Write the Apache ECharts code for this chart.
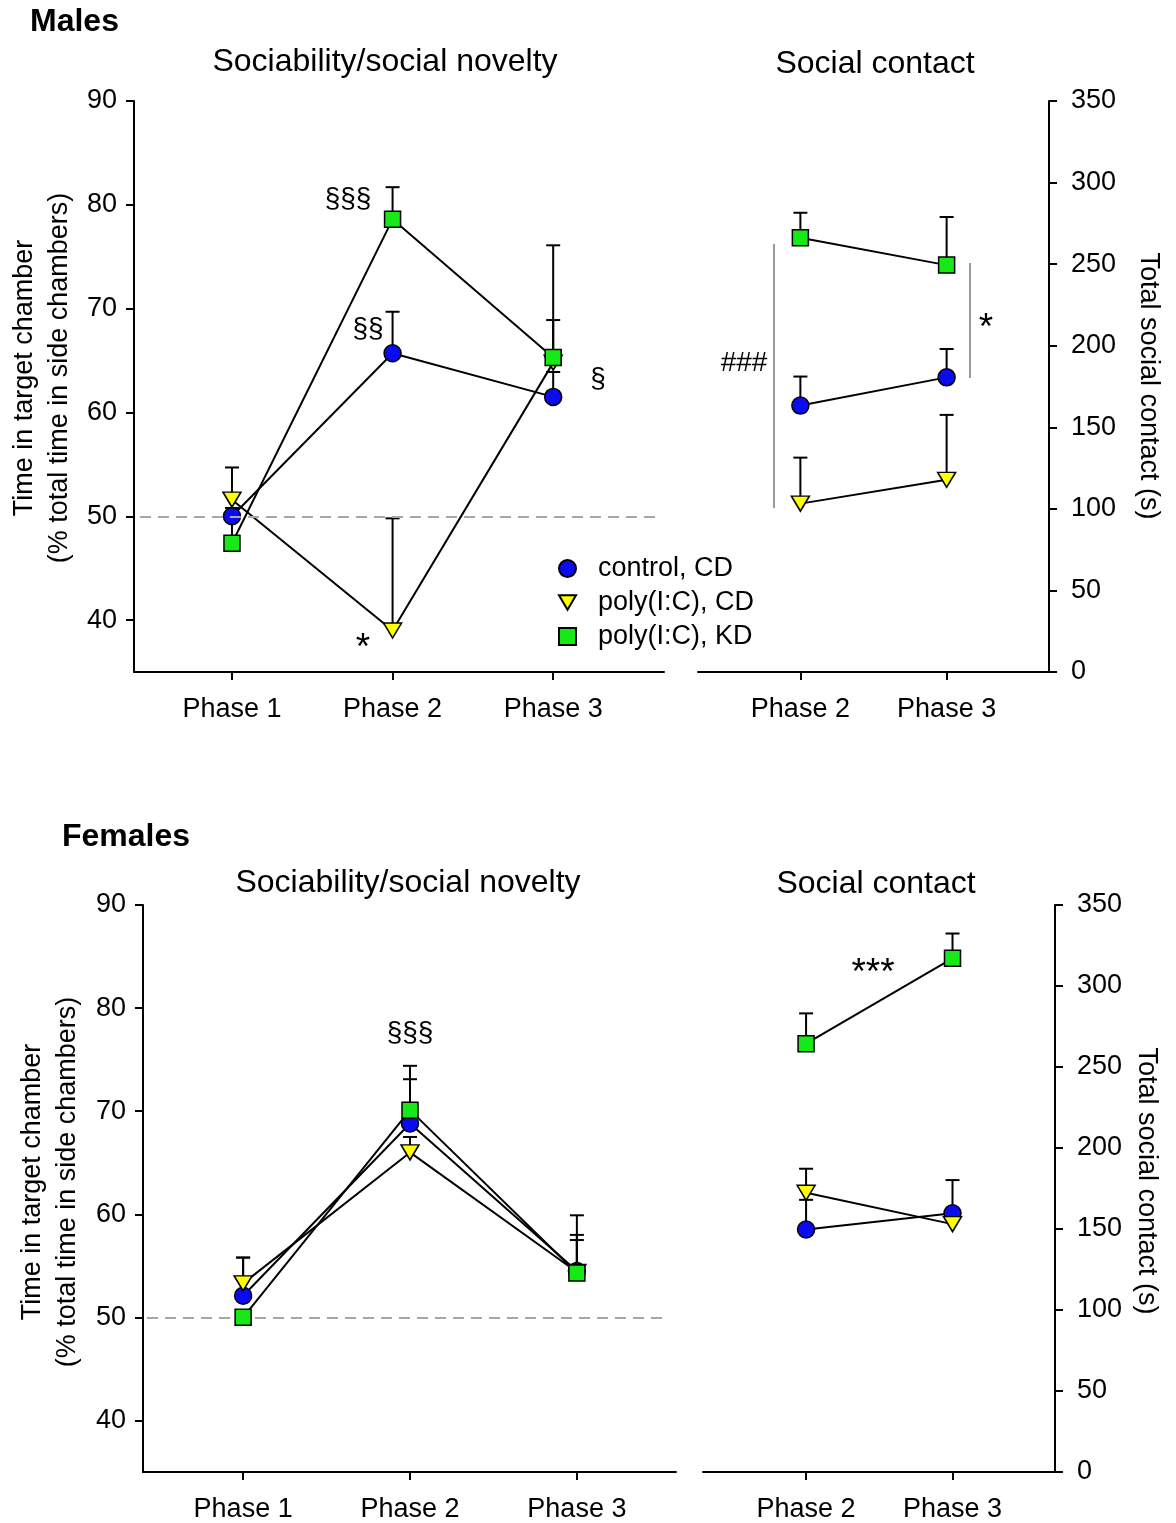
<!DOCTYPE html>
<html>
<head>
<meta charset="utf-8">
<script src="https://cdn.jsdelivr.net/npm/echarts@6/dist/echarts.min.js"></script>
<style>
html,body{margin:0;padding:0;background:#fff;}
#main{width:1176px;height:1523px;}
</style>
</head>
<body>
<div id="main"></div>
<script>
// ---------- DATA ----------
const groupNames = ['control, CD', 'poly(I:C), CD', 'poly(I:C), KD'];
const phasesSoc = [1, 2, 3];          // Phase 1..3 (sociability / social novelty)
const phasesContact = [2, 3];         // Phase 2..3 (social contact)
const yTicksSoc = [40, 50, 60, 70, 80, 90];
const yTicksContact = [0, 50, 100, 150, 200, 250, 300, 350];

// Males – sociability/social novelty (% time)
const mSocControl = [50.0, 65.7, 61.5];
const mSocControlSem = [0.8, 4.0, 2.4];
const mSocPolyCD = [51.6, 39.0, 64.8];
const mSocPolyCDSem = [3.1, 10.8, 4.1];
const mSocPolyKD = [47.4, 78.6, 65.3];
const mSocPolyKDSem = [2.6, 3.1, 10.8];

// Males – social contact (s)
const mConControl = [163.3, 180.6];
const mConControlSem = [17.8, 17.4];
const mConPolyCD = [103.2, 117.8];
const mConPolyCDSem = [28.2, 39.8];
const mConPolyKD = [266.2, 249.4];
const mConPolyKDSem = [15.3, 29.5];

// Females – sociability/social novelty (% time)
const fSocControl = [52.1, 68.8, 54.5];
const fSocControlSem = [3.7, 4.3, 3.5];
const fSocPolyCD = [53.3, 66.0, 54.4];
const fSocPolyCDSem = [2.5, 1.5, 3.1];
const fSocPolyKD = [50.0, 70.1, 54.3];
const fSocPolyKDSem = [0.5, 4.3, 5.6];

// Females – social contact (s)
const fConControl = [149.7, 159.7];
const fConControlSem = [18.3, 20.5];
const fConPolyCD = [172.4, 153.0];
const fConPolyCDSem = [14.8, 3.0];
const fConPolyKD = [264.4, 317.1];
const fConPolyKDSem = [18.7, 15.3];

// ---------- STYLE ----------
const FONT = "'Liberation Sans', Arial, Helvetica, sans-serif";
const TRI_DOWN = 'path://M0,0 L20,0 L10,17 Z';
const markerStyles = [
  { symbol: 'circle', size: 17, color: '#0a0af5' },
  { symbol: TRI_DOWN, size: [18, 15], color: '#ffff00' },
  { symbol: 'rect', size: 16, color: '#17e817' }
];

const chart = echarts.init(document.getElementById('main'), null, { renderer: 'canvas' });

function xAxisDef(gridIndex, min, max, ticks) {
  return {
    type: 'value', gridIndex, min, max,
    splitLine: { show: false },
    axisLine: { show: true, onZero: false, lineStyle: { color: '#000', width: 2 } },
    axisTick: { show: true, length: 8, customValues: ticks, lineStyle: { color: '#000', width: 2 } },
    axisLabel: { customValues: ticks, formatter: v => 'Phase ' + v, margin: 24,
      color: '#000', fontSize: 27, fontFamily: FONT }
  };
}
function yAxisDef(gridIndex, min, max, ticks, position, margin) {
  return {
    type: 'value', gridIndex, min, max, position,
    splitLine: { show: false },
    axisLine: { show: true, onZero: false, lineStyle: { color: '#000', width: 2 } },
    axisTick: { show: true, length: 8, customValues: ticks, lineStyle: { color: '#000', width: 2 } },
    axisLabel: { customValues: ticks, margin, color: '#000', fontSize: 27, fontFamily: FONT }
  };
}

const series = [];
function addPanel(axisIdx, phases, means, sems) {
  // error bars first (beneath markers)
  means.forEach((m, gi) => {
    series.push({
      type: 'custom',
      name: 'err' + axisIdx + '_' + gi,
      xAxisIndex: axisIdx, yAxisIndex: axisIdx,
      z: 2,
      silent: true,
      data: phases.map((p, i) => [p, m[i], sems[gi][i]]),
      renderItem: function (params, api) {
        const x = api.value(0), y = api.value(1), e = api.value(2);
        const p0 = api.coord([x, y]);
        const p1 = api.coord([x, y + e]);
        return {
          type: 'group',
          children: [
            { type: 'line', shape: { x1: p0[0], y1: p0[1], x2: p1[0], y2: p1[1] },
              style: { stroke: '#000', lineWidth: 2 } },
            { type: 'line', shape: { x1: p1[0] - 7, y1: p1[1], x2: p1[0] + 7, y2: p1[1] },
              style: { stroke: '#000', lineWidth: 2 } }
          ]
        };
      }
    });
  });
  means.forEach((m, gi) => {
    const ms = markerStyles[gi];
    series.push({
      type: 'line',
      name: groupNames[gi],
      xAxisIndex: axisIdx, yAxisIndex: axisIdx,
      z: 3 + gi,
      data: phases.map((p, i) => [p, m[i]]),
      symbol: ms.symbol,
      symbolSize: ms.size,
      symbolKeepAspect: false,
      showAllSymbol: true,
      animation: false,
      lineStyle: { color: '#000', width: 2 },
      itemStyle: { color: ms.color, borderColor: '#000', borderWidth: 1.5 }
    });
  });
}

addPanel(0, phasesSoc, [mSocControl, mSocPolyCD, mSocPolyKD], [mSocControlSem, mSocPolyCDSem, mSocPolyKDSem]);
addPanel(1, phasesContact, [mConControl, mConPolyCD, mConPolyKD], [mConControlSem, mConPolyCDSem, mConPolyKDSem]);
addPanel(2, phasesSoc, [fSocControl, fSocPolyCD, fSocPolyKD], [fSocControlSem, fSocPolyCDSem, fSocPolyKDSem]);
addPanel(3, phasesContact, [fConControl, fConPolyCD, fConPolyKD], [fConControlSem, fConPolyCDSem, fConPolyKDSem]);

// chance-level dashed lines (50 %)
function chanceLine(axisIdx, x0, x1) {
  series.push({
    type: 'line', xAxisIndex: axisIdx, yAxisIndex: axisIdx, data: [], z: 1,
    markLine: {
      silent: true, symbol: 'none', label: { show: false },
      lineStyle: { color: '#a6a6a6', width: 2, type: [11, 7] },
      data: [[{ coord: [x0, 50] }, { coord: [x1, 50] }]]
    }
  });
}
chanceLine(0, 0.427, 3.647);
chanceLine(2, 0.424, 3.545);

function txt(text, x, y, size, opts) {
  opts = opts || {};
  return {
    type: 'text', x, y, rotation: opts.rotation || 0, z: 100,
    style: {
      text, fill: '#000', font: (opts.bold ? 'bold ' : '') + size + 'px ' + FONT,
      textAlign: opts.align || 'center', textVerticalAlign: 'middle',
      lineHeight: opts.lineHeight || size * 1.2
    }
  };
}
function vline(x, y1, y2) {
  return { type: 'line', z: 1, shape: { x1: x, y1, x2: x, y2 }, style: { stroke: '#9a9a9a', lineWidth: 2 } };
}

const yNameSoc = 'Time in target chamber\n(% total time in side chambers)';
const yNameCon = 'Total social contact (s)';

const graphics = [
  txt('Males', 30, 22, 32, { bold: true, align: 'left' }),
  txt('Sociability/social novelty', 385, 62, 32),
  txt('Social contact', 875, 64, 32),
  txt('Females', 62, 837, 32, { bold: true, align: 'left' }),
  txt('Sociability/social novelty', 408, 883, 32),
  txt('Social contact', 876, 884, 32),
  txt(yNameSoc, 42, 378, 27, { rotation: Math.PI / 2, lineHeight: 35 }),
  txt(yNameSoc, 50, 1182, 27, { rotation: Math.PI / 2, lineHeight: 35 }),
  txt(yNameCon, 1148, 386, 27, { rotation: -Math.PI / 2 }),
  txt(yNameCon, 1146, 1181, 27, { rotation: -Math.PI / 2 }),
  // significance annotations
  txt('§§§', 348, 199, 28),
  txt('§§', 368, 329, 28),
  txt('§', 598, 379, 28),
  txt('*', 363, 649, 37),
  txt('###', 744, 363, 28),
  txt('*', 986, 329, 37),
  txt('§§§', 410, 1033, 28),
  txt('***', 873, 974, 37),
  vline(774, 244, 508),
  vline(970, 263, 378)
];

const option = {
  backgroundColor: '#fff',
  animation: false,
  grid: [
    { left: 134, top: 101, width: 530, height: 571 },
    { left: 698, top: 101, width: 351, height: 571 },
    { left: 143, top: 905, width: 533, height: 570 },
    { left: 703, top: 905, width: 352, height: 570 }
  ],
  xAxis: [
    xAxisDef(0, 0.39, 3.69, phasesSoc),
    xAxisDef(1, 1.3, 3.7, phasesContact),
    xAxisDef(2, 0.40, 3.594, phasesSoc),
    xAxisDef(3, 1.296, 3.70, phasesContact)
  ],
  yAxis: [
    yAxisDef(0, 35, 90, yTicksSoc, 'left', 17),
    yAxisDef(1, 0, 350, yTicksContact, 'right', 22),
    yAxisDef(2, 35, 90, yTicksSoc, 'left', 17),
    yAxisDef(3, 0, 350, yTicksContact, 'right', 22)
  ],
  legend: {
    orient: 'vertical', left: 558, top: 555, padding: 0,
    itemWidth: 17, itemHeight: 17, itemGap: 7,
    selectedMode: false,
    textStyle: { color: '#000', fontSize: 27, fontFamily: FONT, padding: [0, 0, 0, 17] },
    data: [
      { name: groupNames[0], icon: 'circle' },
      { name: groupNames[1], icon: TRI_DOWN },
      { name: groupNames[2], icon: 'rect' }
    ]
  },
  graphic: graphics,
  series
};
chart.setOption(option);
</script>
</body>
</html>
